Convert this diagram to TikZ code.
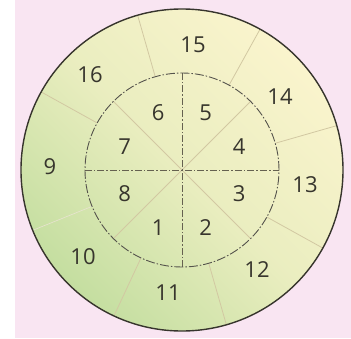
\documentclass[tikz,border=0pt]{standalone}
\usepackage{fontspec}
\setmainfont{Open Sans}
\usetikzlibrary{positioning}
\definecolor{softpink}{RGB}{249,229,242}
\definecolor{softcream}{RGB}{250,244,205}
\definecolor{softgreen}{RGB}{196,222,160}
\definecolor{inkgray}{RGB}{55,53,45}
\definecolor{tanline}{RGB}{210,200,162}
\begin{document}
\begin{tikzpicture}[x=1pt, y=1pt, every node/.style={font=\fontsize{22}{24}\selectfont, text=inkgray}]
\useasboundingbox (-182,-168) rectangle (169,170);
\fill[white] (-182,-168) rectangle (-167,170);
\fill[softpink] (-167,-168) rectangle (169,170);
\shade[bottom color=softgreen, top color=softcream, middle color=softcream!70!softgreen, shading angle=-45] (0,0) circle[radius=161];
% outer ring dividers
\foreach \a in {16,61,106,151,245,286,331}
  \draw[tanline, line width=0.8pt] (\a:97) -- (\a:161);
\draw[tanline!50, line width=0.6pt] (202:97) -- (202:161);
% inner spokes
\foreach \a in {45,135,225,315}
  \draw[tanline, line width=0.8pt] (0,0) -- (\a:97);
\draw[inkgray!70!tanline, line width=0.9pt, dash pattern=on 7pt off 2pt on 1.5pt off 2pt] (-97,0) -- (97,0);
\draw[inkgray!70!tanline, line width=0.9pt, dash pattern=on 7pt off 2pt on 1.5pt off 2pt] (0,-97) -- (0,97);
\draw[inkgray, line width=1.4pt] (0,0) circle[radius=161];
\draw[inkgray!85, line width=0.9pt, dash pattern=on 9pt off 2pt on 1.5pt off 2pt] (0,0) circle[radius=97];
% inner labels
\foreach \n/\a in {1/247.5,2/292.5,3/337.5,4/22.5,5/67.5,6/112.5,7/157.5,8/202.5}
  \node (in\n) at (\a:62) {\n};
% outer labels
\node (out9) at (-132,3) {9};
\node (out10) at (-99,-87) {10};
\node (out11) at (-14,-123) {11};
\node (out12) at (75,-100) {12};
\node (out13) at (123,-15) {13};
\node (out14) at (98,73) {14};
\node (out15) at (11,125) {15};
\node (out16) at (-92,95) {16};
\end{tikzpicture}
\end{document}
